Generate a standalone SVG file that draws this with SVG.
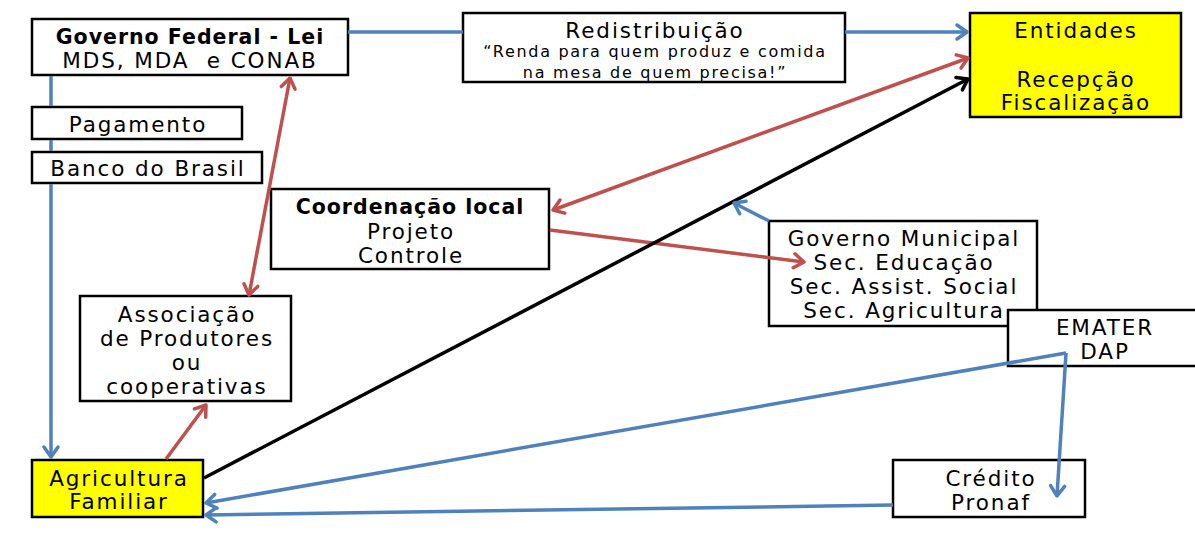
<svg xmlns="http://www.w3.org/2000/svg" width="1195" height="533" viewBox="0 0 1195 533">
  <style>
    .box { fill: #ffffff; stroke: #000000; stroke-width: 2.5; }
    .hl { fill: #ffff00; stroke: #000000; stroke-width: 2.5; }
    text { font-family: "DejaVu Sans", "Open Sans", sans-serif; font-size: 21.5px; fill: #000000; text-anchor: middle; dominant-baseline: central; letter-spacing: 1.9px; }
    .b { font-weight: bold; font-size: 20.5px; letter-spacing: 1px; }
    .sm { font-size: 16px; letter-spacing: 1.7px; }
    .blue { stroke: #4f81bd; stroke-width: 3.5; fill: none; }
    .red { stroke: #c0504d; stroke-width: 3.5; fill: none; }
    .blk { stroke: #000000; stroke-width: 3.5; fill: none; }
  </style>
  <defs>
    <marker id="ab" markerWidth="20" markerHeight="20" refX="16" refY="10" orient="auto-start-reverse" markerUnits="userSpaceOnUse">
      <path d="M6,3 L16,10 L6,17" fill="none" stroke="#4f81bd" stroke-width="3.5" stroke-linecap="round" stroke-linejoin="round"/>
    </marker>
    <marker id="ar" markerWidth="20" markerHeight="20" refX="16" refY="10" orient="auto-start-reverse" markerUnits="userSpaceOnUse">
      <path d="M6,3 L16,10 L6,17" fill="none" stroke="#c0504d" stroke-width="3.5" stroke-linecap="round" stroke-linejoin="round"/>
    </marker>
    <marker id="ak" markerWidth="20" markerHeight="20" refX="16" refY="10" orient="auto-start-reverse" markerUnits="userSpaceOnUse">
      <path d="M6,3 L16,10 L6,17" fill="none" stroke="#000000" stroke-width="3.5" stroke-linecap="round" stroke-linejoin="round"/>
    </marker>
  </defs>

  <rect width="1195" height="533" fill="#ffffff"/>

  <g id="gov-federal">
    <rect class="box" x="32" y="19" width="316" height="56"/>
    <text class="b" x="190" y="37">Governo Federal - Lei</text>
    <text x="190" y="60">MDS, MDA&#160; e CONAB</text>
  </g>

  <g id="redistribuicao">
    <rect class="box" x="463" y="13" width="382" height="69"/>
    <text x="655" y="30">Redistribuição</text>
    <text class="sm" x="655" y="51">“Renda para quem produz e comida</text>
    <text class="sm" x="655" y="72">na mesa de quem precisa!”</text>
  </g>

  <g id="entidades">
    <rect class="hl" x="970" y="13" width="211" height="104"/>
    <text x="1076" y="30">Entidades</text>
    <text x="1076" y="79">Recepção</text>
    <text x="1076" y="102">Fiscalização</text>
  </g>

  <g id="pagamento">
    <rect class="box" x="32" y="107" width="210" height="32"/>
    <text x="138" y="124">Pagamento</text>
  </g>

  <g id="banco-do-brasil">
    <rect class="box" x="32" y="152" width="230" height="31"/>
    <text x="148" y="168">Banco do Brasil</text>
  </g>

  <g id="coordenacao-local">
    <rect class="box" x="271" y="189" width="278" height="80"/>
    <text class="b" x="410" y="207">Coordenação local</text>
    <text x="411" y="231">Projeto</text>
    <text x="411" y="255">Controle</text>
  </g>

  <g id="governo-municipal">
    <rect class="box" x="769" y="221" width="268" height="105"/>
    <text x="904" y="238">Governo Municipal</text>
    <text x="904" y="262">Sec. Educação</text>
    <text x="904" y="286">Sec. Assist. Social</text>
    <text x="904" y="310">Sec. Agricultura</text>
  </g>

  <g id="emater">
    <rect class="box" x="1008" y="310" width="200" height="56"/>
    <text x="1105" y="327">EMATER</text>
    <text x="1105" y="351">DAP</text>
  </g>

  <g id="associacao">
    <rect class="box" x="80" y="296" width="211" height="105"/>
    <text x="187" y="314">Associação</text>
    <text x="187" y="338">de Produtores</text>
    <text x="187" y="362">ou</text>
    <text x="187" y="386">cooperativas</text>
  </g>

  <g id="agricultura-familiar">
    <rect class="hl" x="32" y="460" width="171" height="57"/>
    <text x="119" y="478">Agricultura</text>
    <text x="119" y="501">Familiar</text>
  </g>

  <g id="credito-pronaf">
    <rect class="box" x="893" y="460" width="192" height="57"/>
    <text x="991" y="478">Crédito</text>
    <text x="991" y="502">Pronaf</text>
  </g>

  <g id="connectors">
    <!-- federal government to redistribution and on to entities -->
    <line class="blue" x1="348" y1="32" x2="463" y2="32"/>
    <line class="blue" x1="845" y1="32" x2="967" y2="32" marker-end="url(#ab)"/>
    <!-- payment channel down to family farming, passing behind the payment boxes -->
    <line class="blue" x1="51" y1="76" x2="51" y2="106"/>
    <line class="blue" x1="51" y1="140" x2="51" y2="151"/>
    <line class="blue" x1="51" y1="184" x2="51" y2="457" marker-end="url(#ab)"/>
    <!-- federal government <-> association -->
    <line class="red" x1="290" y1="78" x2="249" y2="295" marker-start="url(#ar)" marker-end="url(#ar)"/>
    <!-- entities <-> local coordination -->
    <line class="red" x1="968" y1="58" x2="553" y2="210" marker-start="url(#ar)" marker-end="url(#ar)"/>
    <!-- local coordination to municipal government -->
    <line class="red" x1="550" y1="230" x2="804" y2="262" marker-end="url(#ar)"/>
    <!-- family farming to entities -->
    <line class="blk" x1="204" y1="478" x2="968" y2="79" marker-end="url(#ak)"/>
    <!-- municipal government to the delivery line -->
    <line class="blue" x1="769" y1="221" x2="734" y2="203" marker-end="url(#ab)"/>
    <!-- family farming to association -->
    <line class="red" x1="166" y1="459" x2="206" y2="405" marker-end="url(#ar)"/>
    <!-- EMATER to credit and to family farming -->
    <line class="blue" x1="1066" y1="353" x2="1057" y2="496" marker-end="url(#ab)"/>
    <line class="blue" x1="1066" y1="353" x2="206" y2="503" marker-end="url(#ab)"/>
    <!-- credit to family farming -->
    <line class="blue" x1="893" y1="505" x2="206" y2="515" marker-end="url(#ab)"/>
  </g>
</svg>
